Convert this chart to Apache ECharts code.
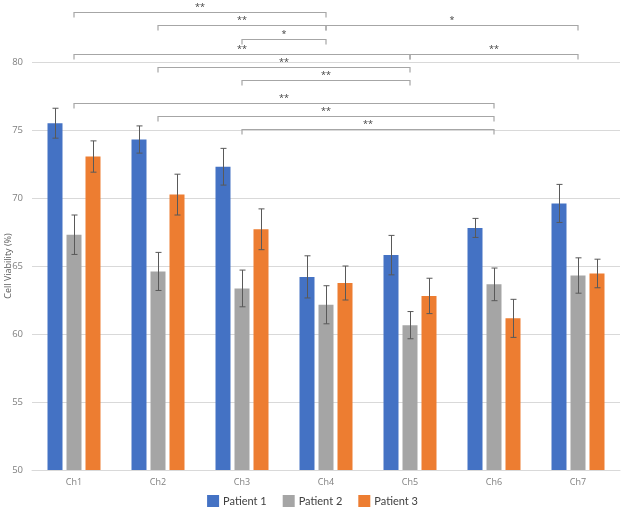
<!DOCTYPE html>
<html>
<head>
<meta charset="utf-8">
<script src="https://cdn.jsdelivr.net/npm/echarts@6/dist/echarts.min.js"></script>
<style>
html,body{margin:0;padding:0;background:#fff;}
#chart{width:625px;height:509px;}
</style>
</head>
<body>
<div id="chart"></div>
<script>
const categories = ['Ch1','Ch2','Ch3','Ch4','Ch5','Ch6','Ch7'];
const seriesNames = ['Patient 1','Patient 2','Patient 3'];
const patient1 = [75.5, 74.3, 72.3, 64.2, 65.8, 67.8, 69.6];
const patient1Err = [1.1, 1.0, 1.35, 1.55, 1.45, 0.7, 1.4];
const patient2 = [67.3, 64.6, 63.35, 62.15, 60.65, 63.65, 64.3];
const patient2Err = [1.45, 1.4, 1.35, 1.4, 1.0, 1.2, 1.3];
const patient3 = [73.05, 70.25, 67.7, 63.75, 62.8, 61.15, 64.45];
const patient3Err = [1.15, 1.5, 1.5, 1.25, 1.3, 1.4, 1.05];

const yTicks = [50, 55, 60, 65, 70, 75, 80];

// significance brackets: from category index, to category index, height (value units), label
const bracketFrom  = [0, 1, 3, 2, 0, 4, 1, 2, 0, 1, 2];
const bracketTo    = [3, 3, 6, 3, 4, 6, 4, 4, 5, 5, 5];
const bracketLevel = [83.7, 82.72, 82.72, 81.72, 80.62, 80.62, 79.64, 78.66, 77.02, 76.05, 75.04];
const bracketLabel = ['**', '**', '*', '*', '**', '**', '**', '**', '**', '**', '**'];

const colors = ['#4472C4', '#A5A5A5', '#ED7D31'];
const values = [patient1, patient2, patient3];
const errs = [patient1Err, patient2Err, patient3Err];

const BAR_W = 15, BAR_GAP = 4;
const FONT = '"Open Sans", "Liberation Sans", sans-serif';

const series = [];
values.forEach((vals, si) => {
  series.push({
    name: seriesNames[si],
    type: 'bar',
    data: vals,
    barWidth: BAR_W,
    barGap: (BAR_GAP / BAR_W * 100) + '%',
    itemStyle: { color: colors[si] },
    z: 2
  });
});
values.forEach((vals, si) => {
  const offset = (si - 1) * (BAR_W + BAR_GAP);
  series.push({
    type: 'custom',
    silent: true,
    z: 5,
    clip: false,
    data: vals.map((v, i) => [i, v, errs[si][i]]),
    renderItem: function (params, api) {
      const i = api.value(0), v = api.value(1), e = api.value(2);
      const top = api.coord([i, v + e]);
      const bot = api.coord([i, v - e]);
      const x = Math.round(top[0] + offset) + 0.5;
      const cap = 3;
      return {
        type: 'group',
        children: [
          { type: 'line', shape: { x1: x, y1: top[1], x2: x, y2: bot[1] }, style: { stroke: '#595959', lineWidth: 1 } },
          { type: 'line', shape: { x1: x - cap, y1: top[1], x2: x + cap, y2: top[1] }, style: { stroke: '#595959', lineWidth: 1 } },
          { type: 'line', shape: { x1: x - cap, y1: bot[1], x2: x + cap, y2: bot[1] }, style: { stroke: '#595959', lineWidth: 1 } }
        ]
      };
    }
  });
});
series.push({
  type: 'custom',
  silent: true,
  z: 6,
  clip: false,
  data: bracketFrom.map((f, k) => [f, bracketTo[k], bracketLevel[k], k]),
  renderItem: function (params, api) {
    const f = api.value(0), t = api.value(1), lv = api.value(2), k = api.value(3);
    const p1 = api.coord([f, lv]);
    const p2 = api.coord([t, lv]);
    const y = Math.round(p1[1]) + 0.5;
    const tick = 5;
    return {
      type: 'group',
      children: [
        { type: 'polyline', shape: { points: [[p1[0], y + tick], [p1[0], y], [p2[0], y], [p2[0], y + tick]] },
          style: { stroke: '#a6a6a6', lineWidth: 1.2, fill: null } },
        { type: 'text', style: { text: bracketLabel[k], x: (p1[0] + p2[0]) / 2, y: y - 1,
          textAlign: 'center', textVerticalAlign: 'bottom', fill: '#404040', fontSize: 9, fontFamily: FONT } }
      ]
    };
  }
});

const chart = echarts.init(document.getElementById('chart'), null, { renderer: 'canvas' });
chart.setOption({
  animation: false,
  backgroundColor: '#fff',
  grid: { left: 32, right: 5, top: 62, bottom: 39, containLabel: false, outerBoundsMode: 'none' },
  legend: {
    data: seriesNames,
    top: 490,
    left: 'center',
    icon: 'rect',
    itemWidth: 12,
    itemHeight: 12,
    itemGap: 16,
    textStyle: { fontSize: 11, color: '#404040', fontFamily: 'Lato, "Open Sans", sans-serif', padding: [0, 0, 0, -1] }
  },
  xAxis: {
    type: 'category',
    data: categories,
    axisLine: { lineStyle: { color: '#d9d9d9' } },
    axisTick: { show: false },
    axisLabel: { color: '#7f7f7f', fontSize: 9, margin: 8, fontFamily: FONT }
  },
  yAxis: {
    type: 'value',
    min: yTicks[0],
    max: yTicks[yTicks.length - 1],
    interval: 5,
    name: 'Cell Viability (%)',
    nameLocation: 'middle',
    nameGap: 19,
    nameMoveOverlap: false,
    nameTextStyle: { color: '#595959', fontSize: 9, fontFamily: FONT },
    axisLine: { show: false },
    axisTick: { show: false },
    axisLabel: { color: '#7f7f7f', fontSize: 9.5, margin: 9, fontFamily: FONT },
    splitLine: { lineStyle: { color: '#d9d9d9' } }
  },
  series: series
});
</script>
</body>
</html>
